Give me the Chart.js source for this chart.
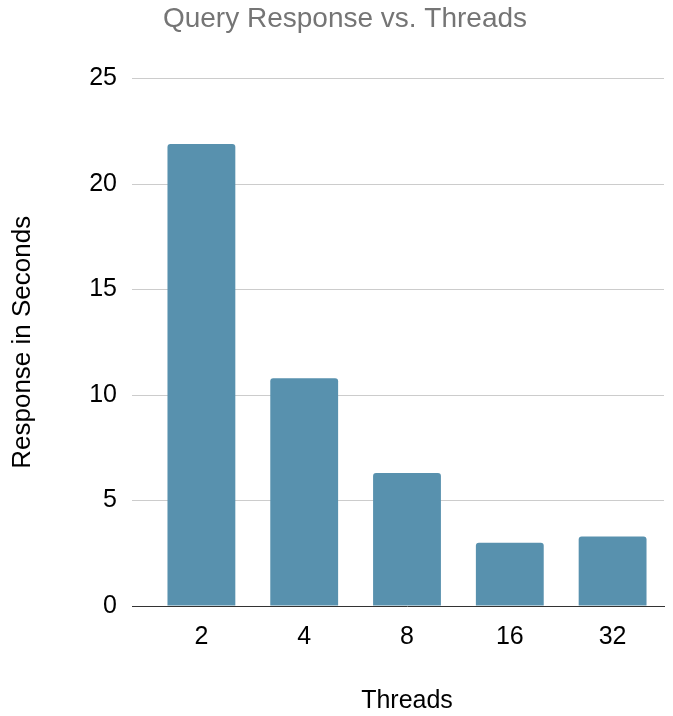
<!DOCTYPE html>
<html>
<head>
<meta charset="utf-8">
<script src="https://cdn.jsdelivr.net/npm/chart.js@4/dist/chart.umd.min.js"></script>
<style>
  html, body { margin: 0; padding: 0; background: #fff; }
  #wrap { width: 673px; height: 716px; }
</style>
</head>
<body>
<div id="wrap"><canvas id="c" width="673" height="716"></canvas></div>
<script>
// Query response time measured at each thread count
const threadCounts = ['2', '4', '8', '16', '32'];
const responseSeconds = [21.9, 10.8, 6.3, 3.0, 3.3];
const yTicks = [0, 5, 10, 15, 20, 25];

const barColor = '#5891ae';
const gridColor = '#cccccc';
const baseColor = '#333333';
const fontFamily = '"Liberation Sans", Arial, sans-serif';

new Chart(document.getElementById('c'), {
  type: 'bar',
  data: {
    labels: threadCounts,
    datasets: [{
      data: responseSeconds,
      backgroundColor: barColor,
      borderRadius: { topLeft: 3, topRight: 3, bottomLeft: 0, bottomRight: 0 },
      borderSkipped: 'bottom',
      categoryPercentage: 0.8,
      barPercentage: 0.825
    }]
  },
  options: {
    responsive: false,
    animation: false,
    devicePixelRatio: 1,
    layout: { padding: { left: 26, right: 9, top: 0, bottom: 0 } },
    plugins: {
      legend: { display: false },
      tooltip: { enabled: false },
      title: {
        display: true,
        text: 'Query Response vs. Threads',
        color: '#757575',
        font: { family: fontFamily, size: 28, weight: 'normal' },
        padding: { top: 2, bottom: 43 }
      }
    },
    scales: {
      x: {
        grid: { display: false, drawTicks: false },
        border: { display: true, color: baseColor, width: 1 },
        ticks: {
          color: '#000',
          font: { family: fontFamily, size: 25 },
          padding: 16
        },
        title: {
          display: true,
          text: 'Threads',
          color: '#000',
          font: { family: fontFamily, size: 25 },
          padding: { top: 0, bottom: 0 }
        },
        afterFit(scale) { scale.height = 110; }
      },
      y: {
        min: 0,
        max: 25,
        afterBuildTicks(scale) { scale.ticks = yTicks.map(v => ({ value: v })); },
        grid: {
          drawTicks: true,
          tickLength: 18,
          color: ctx => (ctx.tick && ctx.tick.value === 0) ? 'rgba(0,0,0,0)' : gridColor,
          tickColor: ctx => (ctx.tick && ctx.tick.value === 0) ? baseColor : gridColor
        },
        border: { display: false },
        ticks: {
          color: '#000',
          font: { family: fontFamily, size: 25 },
          padding: 15
        },
        title: {
          display: true,
          text: 'Response in Seconds',
          color: '#000',
          font: { family: fontFamily, size: 26 },
          padding: { top: -19, bottom: 0 }
        },
        afterFit(scale) { scale.width = 124; }
      }
    }
  }
});
</script>
</body>
</html>
